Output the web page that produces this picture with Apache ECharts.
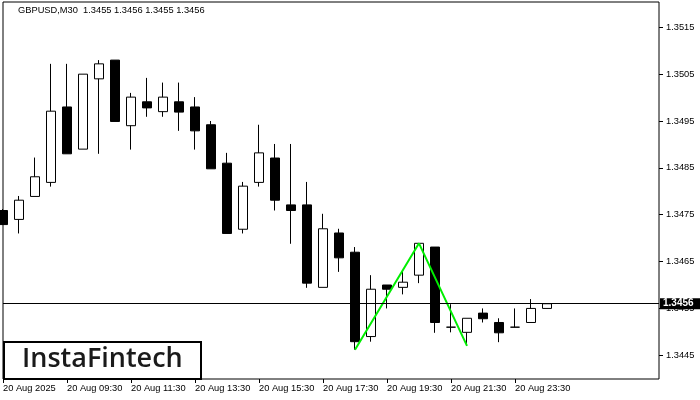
<!DOCTYPE html>
<html>
<head>
<meta charset="utf-8">
<script src="https://cdn.jsdelivr.net/npm/echarts@6/dist/echarts.min.js"></script>
<style>html,body{margin:0;padding:0;background:#fff}#c{width:700px;height:400px}</style>
</head>
<body>
<div id="c"></div>
<script>
const categories = ['20 Aug 07:30','20 Aug 08:00','20 Aug 08:30','20 Aug 09:00','20 Aug 09:30','20 Aug 10:00','20 Aug 10:30','20 Aug 11:00','20 Aug 11:30','20 Aug 12:00','20 Aug 12:30','20 Aug 13:00','20 Aug 13:30','20 Aug 14:00','20 Aug 14:30','20 Aug 15:00','20 Aug 15:30','20 Aug 16:00','20 Aug 16:30','20 Aug 17:00','20 Aug 17:30','20 Aug 18:00','20 Aug 18:30','20 Aug 19:00','20 Aug 19:30','20 Aug 20:00','20 Aug 20:30','20 Aug 21:00','20 Aug 21:30','20 Aug 22:00','20 Aug 22:30','20 Aug 23:00','20 Aug 23:30','21 Aug 00:00','21 Aug 00:30','21 Aug 01:00','21 Aug 01:30','21 Aug 02:00','21 Aug 02:30','21 Aug 03:00','21 Aug 03:30','21 Aug 04:00'];
const openVals  = [1.34759,1.34740,1.34789,1.34819,1.34980,1.34890,1.35040,1.35080,1.34940,1.34991,1.34970,1.34991,1.34980,1.34942,1.34860,1.34719,1.34819,1.34871,1.34771,1.34771,1.34595,1.34711,1.34670,1.34490,1.34600,1.34595,1.34621,1.34681,1.34510,1.34499,1.34540,1.34520,1.34510,1.34520,1.34550];
const closeVals = [1.34729,1.34781,1.34831,1.34971,1.34880,1.35050,1.35072,1.34949,1.35001,1.34978,1.35001,1.34969,1.34929,1.34848,1.34710,1.34811,1.34882,1.34781,1.34759,1.34604,1.34720,1.34658,1.34479,1.34591,1.34591,1.34606,1.34689,1.34520,1.34510,1.34529,1.34528,1.34498,1.34510,1.34550,1.34560];
const lowVals   = [1.34728,1.34710,1.34789,1.34810,1.34880,1.34890,1.34880,1.34949,1.34889,1.34959,1.34959,1.34929,1.34889,1.34848,1.34710,1.34710,1.34810,1.34759,1.34688,1.34594,1.34595,1.34628,1.34462,1.34479,1.34550,1.34580,1.34604,1.34498,1.34499,1.34470,1.34520,1.34478,1.34510,1.34520,1.34550];
const highVals  = [1.34762,1.34790,1.34872,1.35072,1.35072,1.35050,1.35080,1.35080,1.35010,1.35042,1.35032,1.35032,1.35001,1.34950,1.34882,1.34820,1.34942,1.34901,1.34901,1.34820,1.34752,1.34720,1.34681,1.34621,1.34600,1.34630,1.34689,1.34681,1.34559,1.34529,1.34550,1.34529,1.34550,1.34570,1.34560];
const patternIdx = [22, 26, 29];
const patternVals = [1.34462, 1.34689, 1.34470];
const xTickIdx = [0, 4, 8, 12, 16, 20, 24, 28, 32];
const xTickLabels = ['20 Aug 2025','20 Aug 09:30','20 Aug 11:30','20 Aug 13:30','20 Aug 15:30','20 Aug 17:30','20 Aug 19:30','20 Aug 21:30','20 Aug 23:30'];
const yTicks = [1.3445, 1.3455, 1.3465, 1.3475, 1.3485, 1.3495, 1.3505, 1.3515];
const lastPrice = 1.3456;
const titleText = 'GBPUSD,M30  1.3455 1.3456 1.3455 1.3456';
const logoText = 'InstaFintech';

const candleData = openVals.map((o, i) => [o, closeVals[i], lowVals[i], highVals[i]]);
const patternData = patternIdx.map((k, i) => [k, patternVals[i]]);
const FONT = 'Liberation Sans';

const chart = echarts.init(document.getElementById('c'), null, {renderer: 'canvas'});
chart.setOption({
  animation: false,
  backgroundColor: '#fff',
  title: {
    text: titleText, left: 13, top: 1,
    textStyle: {fontFamily: FONT, fontSize: 9.3, fontWeight: 'normal', color: '#000'}
  },
  grid: {left: 3, right: 41, top: 2, bottom: 21, show: true, borderColor: '#000', borderWidth: 1, backgroundColor: '#fff'},
  xAxis: {
    type: 'category', data: categories, boundaryGap: false,
    axisLine: {show: false},
    axisTick: {show: true, length: 4, lineStyle: {color: '#000'}, interval: (idx) => xTickIdx.includes(idx)},
    axisLabel: {
      interval: (idx) => xTickIdx.includes(idx),
      formatter: (v, idx) => { const j = xTickIdx.indexOf(idx); return j >= 0 ? xTickLabels[j] : ''; },
      align: 'left', margin: 5, color: '#000', fontFamily: FONT, fontSize: 9.3
    },
    splitLine: {show: false}
  },
  yAxis: {
    type: 'value', position: 'right', scale: true,
    min: 1.343994, max: 1.35204,
    axisLine: {show: false},
    axisTick: {show: true, length: 4, inside: false, lineStyle: {color: '#000'}, customValues: yTicks},
    axisLabel: {customValues: yTicks, formatter: (v) => v.toFixed(4), margin: 7, color: '#000', fontFamily: FONT, fontSize: 9.3, align: 'left'},
    splitLine: {show: false}
  },
  series: [
    {
      type: 'candlestick', data: candleData, barWidth: 10, clip: true,
      itemStyle: {color: '#fff', color0: '#000', borderColor: '#000', borderColor0: '#000', borderColorDoji: '#000', borderWidth: 1},
      z: 3
    },
    {
      type: 'line', data: patternData, symbol: 'none',
      lineStyle: {color: '#00ee00', width: 2}, z: 4,
      markLine: {
        silent: true, symbol: ['none', 'none'], precision: 4,
        lineStyle: {color: '#000', type: 'solid', width: 1},
        label: {
          position: 'end', distance: 1, formatter: lastPrice.toFixed(4),
          color: '#fff', backgroundColor: '#000', padding: [1, 12, 0, 3],
          fontFamily: FONT, fontSize: 10, fontWeight: 'bold'
        },
        data: [{yAxis: lastPrice}]
      }
    }
  ],
  graphic: [
    {
      type: 'rect', left: 3, top: 341, z: 100,
      shape: {width: 197, height: 37},
      style: {fill: '#fff', stroke: '#000', lineWidth: 2}
    },
    {
      type: 'text', x: 22, y: 359, z: 101,
      style: {text: logoText, fill: '#1a1a1a', font: '600 27px "Open Sans"', verticalAlign: 'middle', align: 'left'}
    }
  ]
});
</script>
</body>
</html>
